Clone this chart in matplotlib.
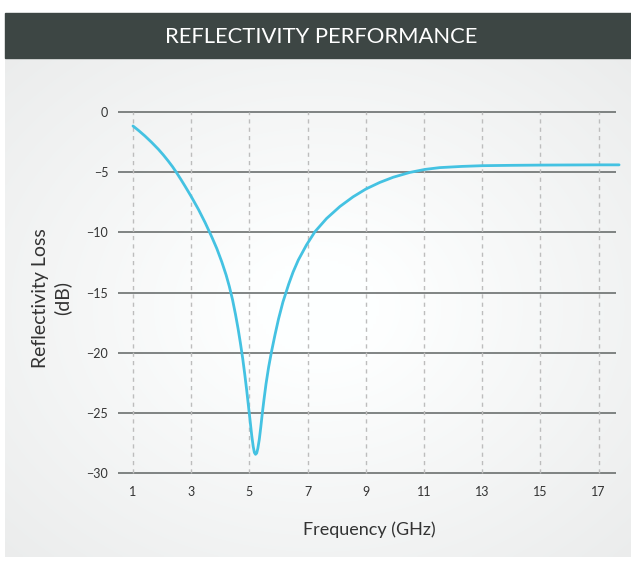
import numpy as np
import matplotlib
matplotlib.use("Agg")
import matplotlib.pyplot as plt
from matplotlib.patches import Rectangle

plt.rcParams['font.family'] = ['Lato', 'DejaVu Sans']

# reflectivity loss curve
freq = [1.0, 1.2, 1.41, 1.64, 1.87, 2.04, 2.21, 2.36, 2.5, 2.65, 2.79, 3.0,
        3.25, 3.48, 3.71, 3.88, 4.05, 4.2, 4.31, 4.42, 4.52, 4.61, 4.69, 4.77,
        4.84, 4.91, 4.97, 5.03, 5.08, 5.13, 5.17, 5.21, 5.25, 5.29, 5.34, 5.39,
        5.44, 5.5, 5.57, 5.66, 5.76, 5.88, 6.0, 6.15, 6.35, 6.5, 6.68, 6.96,
        7.25, 7.65, 8.11, 8.56, 9.0, 9.48, 9.94, 10.51, 11.03, 11.54, 12.3,
        13.0, 14.0, 15.0, 16.0, 17.0, 17.7]
loss = [-1.16, -1.55, -1.99, -2.52, -3.09, -3.56, -4.07, -4.55, -5.05, -5.62,
        -6.17, -7.02, -8.1, -9.2, -10.4, -11.35, -12.45, -13.55, -14.5, -15.6,
        -16.8, -18.0, -19.2, -20.5, -21.8, -23.2, -24.5, -25.8, -26.9, -27.8,
        -28.3, -28.45, -28.35, -27.95, -27.2, -26.2, -25.1, -23.9, -22.6,
        -21.2, -19.9, -18.5, -17.2, -15.8, -14.3, -13.3, -12.3, -11.05, -9.95,
        -8.85, -7.85, -7.05, -6.4, -5.85, -5.42, -5.02, -4.77, -4.62, -4.52,
        -4.46, -4.43, -4.41, -4.4, -4.39, -4.39]

xticks = [1, 3, 5, 7, 9, 11, 13, 15, 17]
yticks = [0, -5, -10, -15, -20, -25, -30]

fig = plt.figure(figsize=(6.31, 5.62), dpi=100)

# light panel with soft gradient
bg = fig.add_axes([5 / 631, 5 / 562, 626 / 631, 499 / 562])
gx, gy = np.meshgrid(np.linspace(-1, 1, 200), np.linspace(-1, 1, 200))
shade = 1 - 0.06 * np.clip(np.sqrt(gx ** 2 + gy ** 2) - 0.2, 0, None)
bg.imshow(np.dstack([shade * 0.995, shade, shade]), aspect='auto',
          extent=[0, 1, 0, 1], interpolation='bilinear')
bg.axis('off')

# header bar
fig.patches.append(Rectangle((5 / 631, 1 - 58 / 562), 626 / 631, 45 / 562,
                             transform=fig.transFigure, color='#3d4644', zorder=0))
fig.text(321 / 631, 1 - 37 / 562, 'REFLECTIVITY PERFORMANCE', color='white',
         fontsize=15.8, ha='center', va='center')

ax = fig.add_axes([118 / 631, 1 - 485 / 562, (622 - 118) / 631, 385 / 562])
ax.patch.set_alpha(0)
ax.set_xlim(0.485, 17.8)
ax.set_ylim(-31, 1)

ax.hlines(yticks, 0.485, 17.6, color='#5f6463', lw=1.1, zorder=1)
ax.vlines(xticks, -30, 0, color='#bdbdbd', lw=1, linestyles=(0, (3, 3)), zorder=1)

ax.plot(freq, loss, color='#44c2e2', lw=2.0, solid_capstyle='round',
        solid_joinstyle='round', zorder=3)

for s in ax.spines.values():
    s.set_visible(False)
ax.set_xticks(xticks)
ax.set_yticks(yticks)
ax.tick_params(length=0, labelsize=9, colors='#333333')
ax.tick_params(axis='y', pad=7)
ax.tick_params(axis='x', pad=1)

fig.text(369 / 631, 1 - 530 / 562, 'Frequency (GHz)', fontsize=13,
         color='#333333', ha='center', va='center')
fig.text(52 / 631, 1 - 298 / 562, 'Reflectivity Loss\n(dB)', fontsize=14,
         color='#333333', ha='center', va='center', rotation=90,
         multialignment='center', linespacing=1.3)

fig.savefig('out.png', dpi=100)
